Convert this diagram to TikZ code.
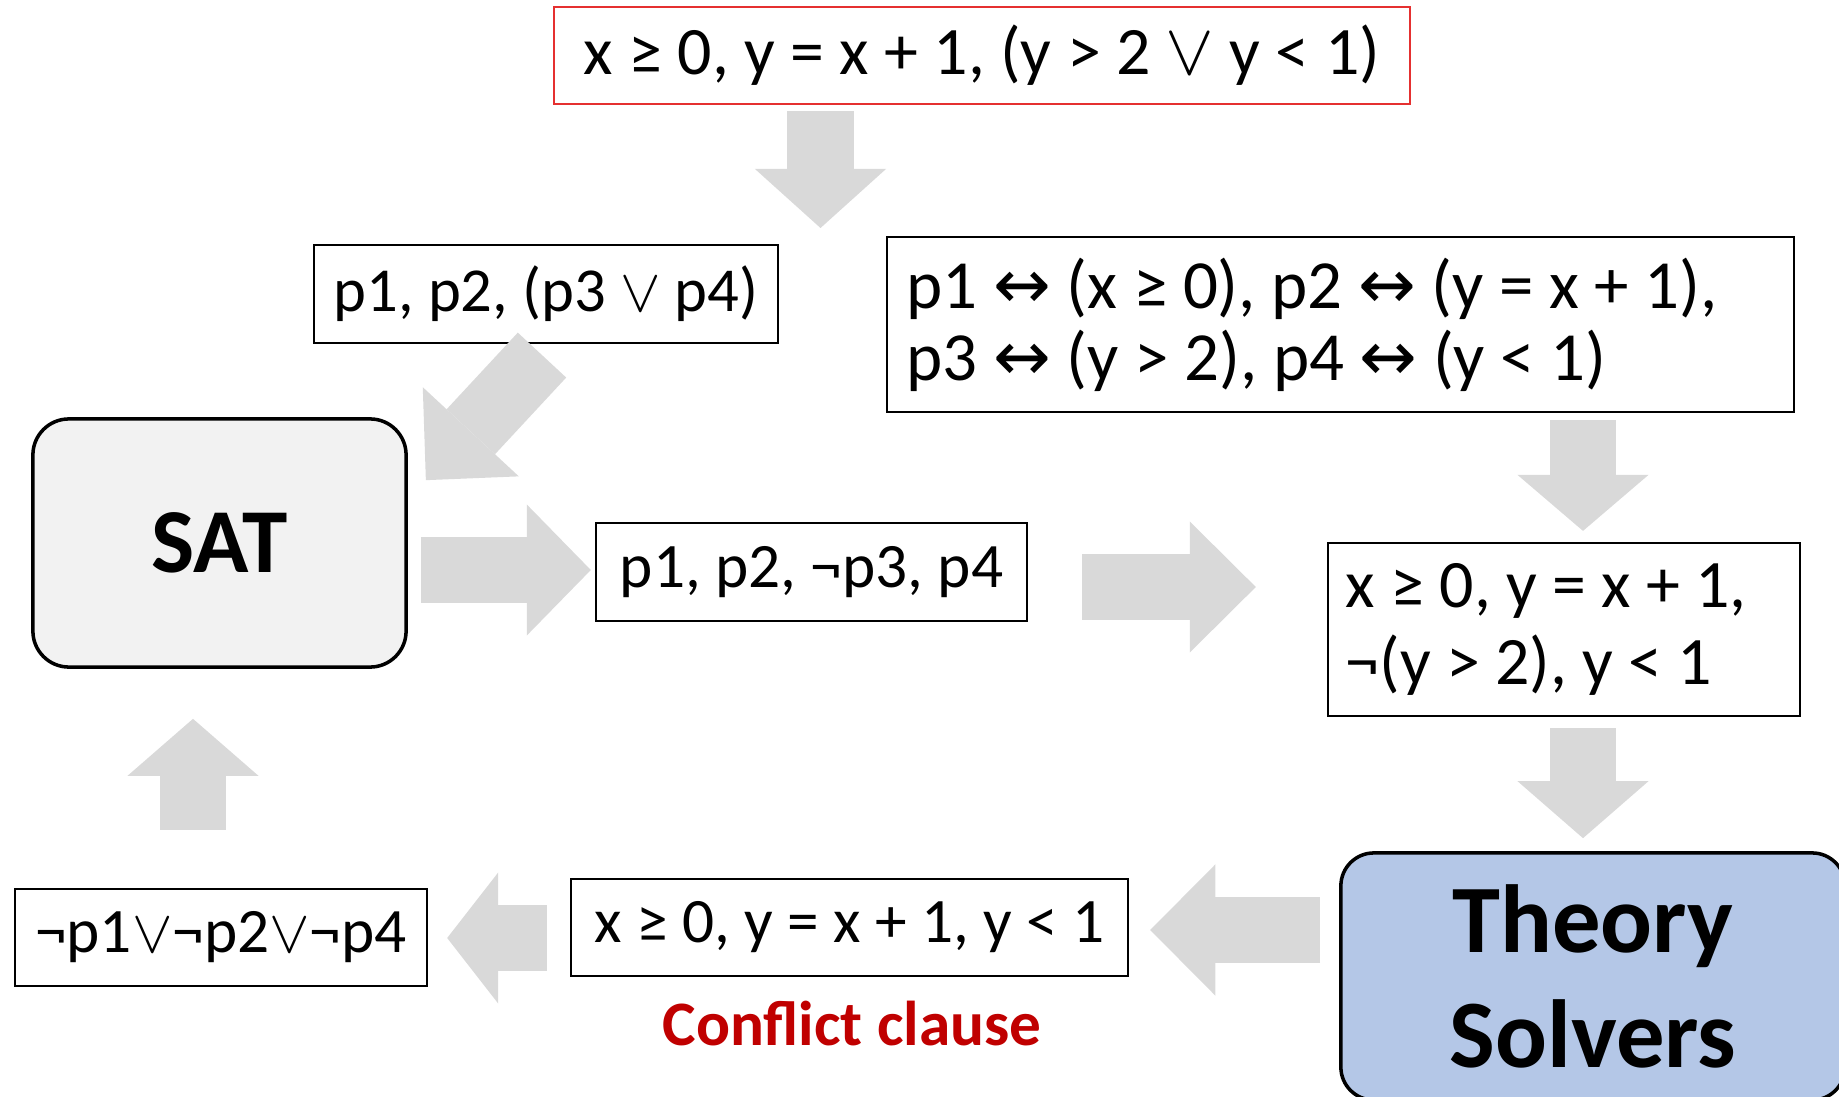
\documentclass[tikz,border=0pt]{standalone}
\usepackage{fontspec}
\setmainfont{Carlito}
\newfontfamily\symfont{DejaVu Sans}
\usetikzlibrary{arrows.meta,calc}
\definecolor{arrowgray}{HTML}{D9D9D9}
\definecolor{satgray}{HTML}{F2F2F2}
\definecolor{theoryblue}{HTML}{B4C7E7}
\definecolor{conflictred}{HTML}{C00000}
\definecolor{inputred}{HTML}{E53030}
\newcommand{\orsym}{\ensuremath{\vee}}
\newcommand{\iffsym}{{\symfont ↔}}

\begin{document}
\begin{tikzpicture}[x=0.01cm, y=-0.01cm,
    box/.style={draw, line width=0.6pt, inner sep=0pt, font=\fontsize{18}{22}\selectfont},
    gill/.style={font=\fontsize{19.3}{19.8}\selectfont},
    rbox/.style={draw, line width=1pt, rounded corners=0.36cm, inner sep=0pt},
    blockarr/.style={draw=arrowgray, line width=0.66cm,
      -{Triangle[length=#1, width=1.31cm, line width=0pt]}},
    blockarr/.default=0.65cm]
  \useasboundingbox (0,0) rectangle (1839,1097);
  % formula and its abstraction
  \node[box, gill, draw=inputred, minimum width=8.56cm, minimum height=0.97cm] (formula)
    at (982,55.5) {x ≥ 0, y = x + 1, (y > 2 \orsym{} y < 1)};
  \node[box, font=\fontsize{17.8}{20}\selectfont, minimum width=4.64cm, minimum height=0.98cm] (bool)
    at (546,294) {p1, p2, (p3 \orsym{} p4)};
  \node[box, font=\fontsize{19.6}{20.4}\selectfont, text width=8.67cm, inner xsep=0.2cm,
        align=flush left, minimum height=1.75cm] (map)
    at (1340.5,324.5) {p1 \iffsym{} (x ≥ 0), p2 \iffsym{} (y = x + 1),\\
                       p3 \iffsym{} (y > 2), p4 \iffsym{} (y < 1)};
  % solvers
  \node[rbox, fill=satgray, minimum width=3.73cm, minimum height=2.48cm,
        font=\bfseries\fontsize{26}{31}\selectfont] (sat) at (219.5,543) {SAT};
  \node[rbox, fill=theoryblue, rounded corners=0.33cm, minimum width=5.04cm, minimum height=2.47cm,
        align=center, font=\bfseries\fontsize{27.5}{32.7}\selectfont] (theory)
    at (1593,976.5) {Theory\\Solvers};
  % assignments
  \node[box, minimum width=4.31cm, minimum height=0.98cm] (assign)
    at (811.5,572) {p1, p2, ¬p3, p4};
  \node[box, gill, text width=4.36cm, inner xsep=0.18cm, align=flush left, minimum height=1.73cm] (lits)
    at (1564,629.5) {x ≥ 0, y = x + 1,\\[0.08cm] ¬(y > 2), y < 1};
  % conflict
  \node[box, minimum width=5.57cm, minimum height=0.97cm] (core)
    at (849.5,927.5) {x ≥ 0, y = x + 1, y < 1};
  \node[font=\bfseries\fontsize{18}{22}\selectfont, text=conflictred] (conflictlbl)
    at (852,1024) {Conflict clause};
  \node[box, minimum width=4.12cm, minimum height=0.97cm] (clause)
    at (221,937.5) {¬p1\orsym¬p2\orsym¬p4};
  % block arrows
  \coordinate (split) at (820.5,228);
  \draw[blockarr=0.59cm] ($(formula.south -| split)+(0,6)$) -- (split);
  \draw[blockarr=0.66cm] ($(bool.south)+(-4,11)$) -- ($(sat.north east)+(18,63)$);
  \draw[blockarr=0.64cm] ($(sat.east |- assign.west)+(13,-2)$) -- ($(assign.west)+(-4,-2)$);
  \draw[blockarr=0.66cm] ($(assign.east)+(54,15)$) -- ($(lits.west)+(-71,-42.5)$);
  \draw[blockarr=0.56cm] ($(map.south -| lits.north)+(19,7)$) -- ($(lits.north)+(19,-11)$);
  \draw[blockarr=0.57cm] ($(lits.south)+(19,11)$) -- ($(theory.north -| lits.south)+(19,-13)$);
  \draw[blockarr] ($(theory.west)+(-19,-46.5)$) -- ($(core.east)+(21,2.5)$);
  \draw[blockarr=0.51cm] ($(core.west)+(-23,10.5)$) -- ($(clause.east)+(19,0.5)$);
  \draw[blockarr=0.57cm] ($(clause.north)+(-28,-58)$) -- ($(sat.south)+(-26.5,50)$);
\end{tikzpicture}
\end{document}
